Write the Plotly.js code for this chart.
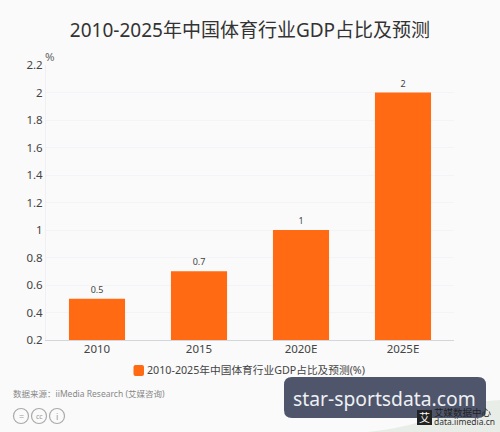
<!DOCTYPE html>
<html><head><meta charset="utf-8">
<script src="https://cdn.plot.ly/plotly-3.0.1.min.js"></script>
<style>html,body{margin:0;padding:0;background:#fafafa}</style></head>
<body><div id="c" style="width:500px;height:432px"></div>
<script>
const categories = ['2010','2015','2020E','2025E'];
const values = [0.5,0.7,1,2];
const labels = ['0.5','0.7','1','2'];
const tickVals = [0.2,0.4,0.6,0.8,1,1.2,1.4,1.6,1.8,2,2.2];
const tickText = ['0.2','0.4','0.6','0.8','1','1.2','1.4','1.6','1.8','2','2.2'];
const titleText = '2010-2025年中国体育行业GDP占比及预测';
const seriesName = '2010-2025年中国体育行业GDP占比及预测(%)';
const F = '"Noto Sans","Noto Sans CJK SC",sans-serif';
const W=500,H=432,L=46,R=46,T=65,B=92;
const PW=W-L-R,PH=H-T-B;
const px=x=>(x-L)/PW, py=y=>1-(y-T)/PH;
function rr(x0,y0,x1,y1,r){
  return `M${px(x0+r)},${py(y0)} L${px(x1-r)},${py(y0)} Q${px(x1)},${py(y0)} ${px(x1)},${py(y0+r)} L${px(x1)},${py(y1-r)} Q${px(x1)},${py(y1)} ${px(x1-r)},${py(y1)} L${px(x0+r)},${py(y1)} Q${px(x0)},${py(y1)} ${px(x0)},${py(y1-r)} L${px(x0)},${py(y0+r)} Q${px(x0)},${py(y0)} ${px(x0+r)},${py(y0)} Z`;
}
function note(x,y,t,size,color,anchor){
  return {xref:'paper',yref:'paper',x:px(x),y:py(y),text:t,showarrow:false,xanchor:anchor||'left',yanchor:'middle',borderpad:0,borderwidth:0,font:{family:F,size:size,color:color}};
}
const circ=(cx,cy,r)=>({type:'circle',xref:'paper',yref:'paper',x0:px(cx-r),x1:px(cx+r),y0:py(cy+r),y1:py(cy-r),line:{color:'#aaa',width:1.2},fillcolor:'rgba(0,0,0,0)'});
Plotly.newPlot('c',[{
  type:'bar',x:categories,y:values,name:seriesName,width:0.55,
  marker:{color:'#ff6a13'},text:labels,textposition:'outside',cliponaxis:false,
  textfont:{family:F,size:9,color:'#444'},showlegend:false
}],{
  width:W,height:H,autosize:false,
  paper_bgcolor:'#fafafa',plot_bgcolor:'#fafafa',
  margin:{l:L,r:R,t:T,b:B,pad:0},
  title:{text:titleText,font:{family:F,size:19,color:'#333'},x:0.5,xanchor:'center',y:1-30/H,yanchor:'middle'},
  xaxis:{type:'category',tickfont:{family:F,size:11.5,color:'#444'},showgrid:false,
    showline:true,linecolor:'#d4d6de',linewidth:1,ticks:'',automargin:false,ticklabelstandoff:-2},
  yaxis:{range:[0.2,2.2],tickvals:tickVals,ticktext:tickText,tickfont:{family:F,size:11.5,color:'#444'},
    gridcolor:'#f3f3f8',gridwidth:1,showline:true,linecolor:'#f0f0f4',ticks:'',zeroline:false,automargin:false},
  shapes:[
    {type:'path',xref:'paper',yref:'paper',layer:'below',
     path:`M${px(368)},${py(432)} Q${px(430)},${py(425)} ${px(462)},${py(403)} L${px(500)},${py(400)} L${px(500)},${py(432)} Z`,
     fillcolor:'#e9ede7',line:{width:0}},
    {type:'path',xref:'paper',yref:'paper',path:rr(133.5,365,144,376,2),fillcolor:'#ff6a13',line:{width:0}},
    {type:'path',xref:'paper',yref:'paper',path:rr(284,377,486,418,8),fillcolor:'#4f566b',line:{width:0}},
    circ(21,416,7.5),circ(39,416,7.5),circ(57,416,7.5),
    {type:'rect',xref:'paper',yref:'paper',x0:px(417),x1:px(432),y0:py(425),y1:py(410),fillcolor:'#222',line:{width:0}}
  ],
  annotations:[
    note(147,370,seriesName,10.7,'#444'),
    note(45,56,'%',11.5,'#666'),
    note(13,393,'数据来源：iiMedia Research (艾媒咨询)',8.5,'#888'),
    note(384,398,'star-sportsdata.com',19.3,'#eef0f4','center'),
    note(21,416,'=',9,'#999','center'),
    note(39,416,'cc',7,'#999','center'),
    note(57,416,'i',9,'#999','center'),
    note(424.5,417,'艾',11,'#fafafa','center'),
    note(434,412,'艾媒数据中心',9.5,'#222'),
    note(434,421,'data.iimedia.cn',8.5,'#333')
  ]
},{displayModeBar:false,staticPlot:true});
</script></body></html>
